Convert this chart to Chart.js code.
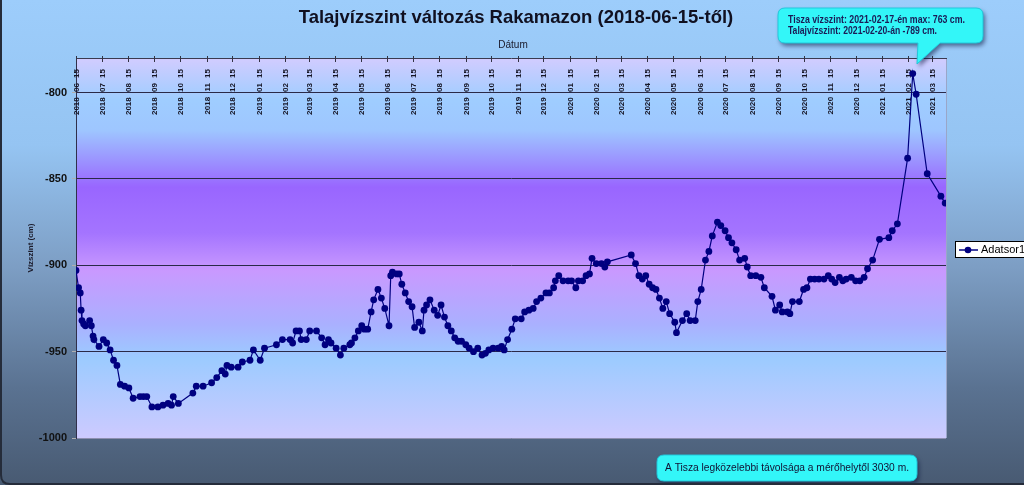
<!DOCTYPE html>
<html><head><meta charset="utf-8">
<script src="https://cdn.jsdelivr.net/npm/chart.js@4.4.0/dist/chart.umd.min.js"></script>
<style>html,body{margin:0;padding:0;overflow:hidden;background:#4a5f78}canvas{display:block}</style>
</head><body>
<canvas id="c" width="1024" height="485"></canvas>
<script>
// ---- data ----
const startDate = '2018 06 15';
const daysSinceStart = [
 0,3,5,6,7,9,11,16,18,20,
 21,27,32,36,40,44,48,52,57,62,
 67,75,79,83,89,96,102,108,112,114,
 120,137,141,149,159,165,171,175,177,182,
 190,195,204,208,216,221,235,242,251,254,
 258,262,264,270,274,282,288,292,296,299,
 305,310,314,321,323,327,331,335,338,342,
 346,349,354,358,362,367,369,371,376,379,
 382,386,390,394,397,402,406,408,411,415,
 420,424,428,432,436,440,444,448,452,457,
 461,466,471,476,480,484,489,495,499,502,
 506,511,515,522,526,531,536,540,545,551,
 555,560,562,566,571,577,581,586,589,594,
 598,602,605,610,616,620,623,651,656,660,
 664,668,672,676,680,684,688,692,696,702,
 704,711,716,720,726,729,733,738,742,746,
 752,756,761,765,769,774,778,784,787,791,
 797,803,807,816,820,825,828,834,837,840,
 848,853,857,861,866,871,877,882,886,890,
 895,899,903,909,914,919,924,928,934,942,
 953,957,963,975,981,985,998,1014,1019
];
const levels = [
 -903,-913,-916,-926,-932,-934,-935,-932,-935,-941,
 -943,-947,-943,-945,-949,-955,-958,-969,-970,-971,
 -977,-976,-976,-976,-982,-982,-981,-980,-981,-976,
 -980,-974,-970,-970,-968,-965,-961,-963,-958,-959,
 -959,-956,-955,-949,-955,-948,-946,-943,-943,-945,
 -938,-938,-943,-943,-938,-938,-942,-946,-943,-945,
 -948,-952,-948,-946,-945,-942,-938,-935,-937,-937,
 -927,-920,-914,-919,-925,-935,-906,-904,-905,-905,
 -911,-916,-921,-924,-936,-933,-938,-926,-923,-920,
 -926,-929,-923,-930,-935,-938,-942,-944,-944,-946,
 -948,-950,-948,-952,-951,-949,-948,-948,-947,-949,
 -943,-937,-931,-931,-927,-926,-925,-921,-919,-916,
 -916,-913,-909,-906,-909,-909,-909,-913,-909,-909,
 -906,-905,-896,-899,-899,-901,-898,-894,-899,-906,
 -908,-906,-911,-913,-914,-919,-925,-921,-928,-933,
 -939,-932,-928,-932,-932,-921,-914,-897,-892,-883,
 -875,-877,-880,-884,-887,-891,-897,-896,-901,-906,
 -906,-907,-913,-918,-926,-923,-927,-927,-928,-921,
 -921,-914,-913,-908,-908,-908,-908,-906,-908,-910,
 -907,-909,-908,-907,-909,-909,-907,-902,-897,-885,
 -884,-880,-876,-838,-789,-801,-847,-860,-864
];
const endDate = '2021 03 31';
const tickLabels = [
 '2018 06 15','2018 07 15','2018 08 15','2018 09 15','2018 10 15','2018 11 15','2018 12 15',
 '2019 01 15','2019 02 15','2019 03 15','2019 04 15','2019 05 15','2019 06 15','2019 07 15',
 '2019 08 15','2019 09 15','2019 10 15','2019 11 15','2019 12 15',
 '2020 01 15','2020 02 15','2020 03 15','2020 04 15','2020 05 15','2020 06 15','2020 07 15',
 '2020 08 15','2020 09 15','2020 10 15','2020 11 15','2020 12 15',
 '2021 01 15','2021 02 15','2021 03 15'
];
const yTickValues = [-1000,-950,-900,-850,-800];
const yMin = -1000, yMax = -780;
const seriesName = 'Adatsor1';
const chartTitle = 'Talajvízszint változás Rakamazon (2018-06-15-től)';
const xTitle = 'Dátum';
const yTitle = 'Vízszint (cm)';
const calloutLines = ['Tisza vízszint: 2021-02-17-én max: 763 cm.','Talajvízszint: 2021-02-20-án -789 cm.'];
const noteText = 'A Tisza legközelebbi távolsága a mérőhelytől 3030 m.';

// ---- helpers ----
function utc(s){const p=s.split(/[ -]/).map(Number);return Date.UTC(p[0],p[1]-1,p[2]);}
const t0 = utc(startDate);
function dayOf(s){return Math.round((utc(s)-t0)/864e5);}
const points = daysSinceStart.map((d,i)=>({x:d,y:levels[i]}));

function rr(ctx,x,y,w,h,r){ctx.beginPath();ctx.moveTo(x+r,y);ctx.lineTo(x+w-r,y);ctx.quadraticCurveTo(x+w,y,x+w,y+r);ctx.lineTo(x+w,y+h-r);ctx.quadraticCurveTo(x+w,y+h,x+w-r,y+h);ctx.lineTo(x+r,y+h);ctx.quadraticCurveTo(x,y+h,x,y+h-r);ctx.lineTo(x,y+r);ctx.quadraticCurveTo(x,y,x+r,y);ctx.closePath();}

const SANS = '"Liberation Sans", Arial, sans-serif';

const decor = {
 id:'decor',
 beforeDraw(chart){
  const ctx=chart.ctx, W=chart.width, H=chart.height, a=chart.chartArea;
  ctx.save();
  let g=ctx.createLinearGradient(0,0,0,H);
  g.addColorStop(0,'#9dcdfb');g.addColorStop(0.3,'#95c4f2');g.addColorStop(0.55,'#7d9ec4');
  g.addColorStop(0.8,'#5a7291');g.addColorStop(1,'#485a72');
  ctx.fillStyle=g;ctx.fillRect(0,0,W,H);
  // plot area
  g=ctx.createLinearGradient(0,a.top,0,a.bottom);
  g.addColorStop(0,'#d2ccff');g.addColorStop(0.11,'#9fcdff');g.addColorStop(0.19,'#9ec6ff');
  g.addColorStop(0.34,'#9966ff');g.addColorStop(0.46,'#a474ff');g.addColorStop(0.56,'#c999ff');
  g.addColorStop(0.7,'#aab0ff');g.addColorStop(0.79,'#9ccbff');g.addColorStop(1,'#cdcaff');
  ctx.fillStyle=g;ctx.fillRect(a.left,a.top,a.right-a.left,a.bottom-a.top);
  // right border of plot
  ctx.strokeStyle='#9aa6c8';ctx.lineWidth=1;
  ctx.beginPath();ctx.moveTo(a.right+0.5,a.top);ctx.lineTo(a.right+0.5,a.bottom);ctx.stroke();
  // titles
  ctx.fillStyle='#101020';ctx.textAlign='center';ctx.textBaseline='middle';
  ctx.font='bold 18.5px '+SANS;ctx.fillText(chartTitle,516,18);
  ctx.fillStyle='#1a1a2a';
  ctx.font='10px '+SANS;ctx.fillText(xTitle,513,45);
  ctx.font='bold 8px '+SANS;
  ctx.save();ctx.translate(31,248);ctx.rotate(-Math.PI/2);ctx.fillText(yTitle,0,0);ctx.restore();
  ctx.restore();
 },
 beforeDatasetsDraw(chart){
  const ctx=chart.ctx, xs=chart.scales.x, a=chart.chartArea;
  ctx.save();
  ctx.strokeStyle='#333344';ctx.lineWidth=1;
  ctx.fillStyle='#151525';ctx.font='bold 8px '+SANS;
  try{ctx.wordSpacing='3px';}catch(e){}
  tickLabels.forEach(lbl=>{
   const px=Math.round(xs.getPixelForValue(dayOf(lbl)));
   ctx.beginPath();ctx.moveTo(px+0.5,a.top-2);ctx.lineTo(px+0.5,a.top+4);ctx.stroke();
   ctx.save();ctx.translate(px+0.5,69);ctx.rotate(-Math.PI/2);
   ctx.textAlign='right';ctx.textBaseline='middle';ctx.fillText(lbl,0,0);ctx.restore();
  });
  ctx.restore();
 },
 afterDraw(chart){
  const ctx=chart.ctx;
  ctx.save();
  // legend
  ctx.fillStyle='#ffffff';ctx.fillRect(955.5,241.5,80,16);
  ctx.strokeStyle='#000';ctx.lineWidth=1;ctx.strokeRect(955.5,241.5,80,16);
  ctx.strokeStyle='#000080';ctx.lineWidth=1.5;ctx.beginPath();ctx.moveTo(959,250);ctx.lineTo(978,250);ctx.stroke();
  ctx.fillStyle='#000080';ctx.beginPath();ctx.arc(968,250,3.3,0,Math.PI*2);ctx.fill();
  ctx.fillStyle='#000';ctx.font='11px '+SANS;ctx.textAlign='left';ctx.textBaseline='middle';
  ctx.fillText(seriesName,981,250);
  // callout
  ctx.save();
  ctx.shadowColor='rgba(10,20,60,0.55)';ctx.shadowBlur=4;ctx.shadowOffsetX=2;ctx.shadowOffsetY=3;
  const x0=778,y0=8,x1=983,y1=43,r=7;
  ctx.beginPath();ctx.moveTo(x0+r,y0);ctx.lineTo(x1-r,y0);ctx.quadraticCurveTo(x1,y0,x1,y0+r);
  ctx.lineTo(x1,y1-r);ctx.quadraticCurveTo(x1,y1,x1-r,y1);ctx.lineTo(940,y1);ctx.lineTo(917,64);ctx.lineTo(918,y1);
  ctx.lineTo(x0+r,y1);ctx.quadraticCurveTo(x0,y1,x0,y1-r);ctx.lineTo(x0,y0+r);ctx.quadraticCurveTo(x0,y0,x0+r,y0);ctx.closePath();
  ctx.fillStyle='#33f6f8';ctx.fill();
  ctx.restore();
  ctx.strokeStyle='#22c8dc';ctx.lineWidth=1;ctx.stroke();
  ctx.fillStyle='#1a1a55';ctx.font='bold 10px '+SANS;ctx.textAlign='left';ctx.textBaseline='middle';
  ctx.fillText(calloutLines[0],788,20,177);ctx.fillText(calloutLines[1],788,31,149);
  // note
  ctx.save();
  ctx.shadowColor='rgba(10,20,60,0.55)';ctx.shadowBlur=4;ctx.shadowOffsetX=2;ctx.shadowOffsetY=3;
  rr(ctx,657,455,260,26,7);ctx.fillStyle='#33f6f8';ctx.fill();
  ctx.restore();
  ctx.strokeStyle='#22c8dc';ctx.lineWidth=1;rr(ctx,657,455,260,26,7);ctx.stroke();
  ctx.fillStyle='#111133';ctx.font='11px '+SANS;ctx.textAlign='left';ctx.textBaseline='middle';
  ctx.fillText(noteText,665,468,244);
  // outer border
  ctx.strokeStyle='#252c3a';ctx.lineWidth=2;rr(ctx,1,-20,1040,504,9);ctx.stroke();
  ctx.restore();
 }
};

new Chart(document.getElementById('c'),{
 type:'line',
 data:{datasets:[{label:seriesName,data:points,borderColor:'#000080',backgroundColor:'#000080',
   borderWidth:1.2,pointRadius:3.4,pointBorderWidth:0,pointHoverRadius:3.4,tension:0}]},
 options:{
  responsive:false,animation:false,devicePixelRatio:1,
  layout:{padding:{left:0,right:78,top:0,bottom:47}},
  plugins:{legend:{display:false},tooltip:{enabled:false},title:{display:false}},
  events:[],
  scales:{
   x:{type:'linear',position:'top',min:0,max:dayOf(endDate),
      afterFit(s){s.height=58;},
      ticks:{display:false},grid:{display:false,drawTicks:false},
      border:{display:true,color:'#3a3a50',width:1}},
   y:{type:'linear',min:yMin,max:yMax,
      afterFit(s){s.width=76;},
      afterBuildTicks(s){s.ticks=yTickValues.map(v=>({value:v}));},
      ticks:{font:{family:'"Liberation Sans", Arial',size:11,weight:'bold'},color:'#111',padding:5,callback:v=>String(v)},
      grid:{color:c=>(c.tick&&c.tick.value===-1000)?'#8d8fb0':'#2a2a48',lineWidth:1,tickLength:4,tickColor:'#b0b0b0'},
      border:{color:'#30304a',width:1}}
  }
 },
 plugins:[decor]
});
</script>
</body></html>
